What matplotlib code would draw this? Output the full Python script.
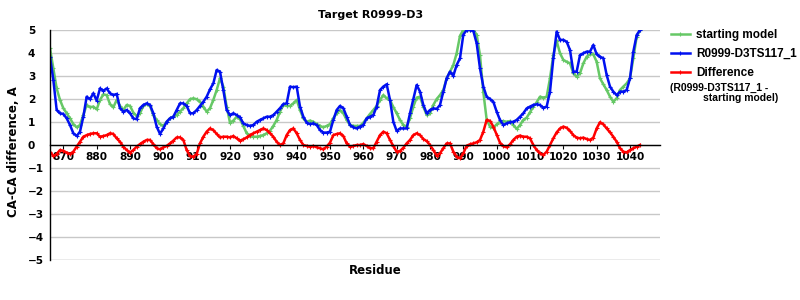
import numpy as np
import matplotlib
matplotlib.use("Agg")
import matplotlib.pyplot as plt

# residues 866..1043
residues = np.arange(866, 1044)

starting_model = [
    4.2, 3.33, 2.46, 1.96, 1.6, 1.38, 1.16, 0.91, 0.77, 0.87,
    1.3, 1.74, 1.64, 1.67, 1.55, 1.96, 2.2, 2.17, 1.78, 1.64,
    1.96, 1.7, 1.52, 1.74, 1.7, 1.41, 1.26, 1.38, 1.7, 1.78,
    1.7, 1.3, 1.09, 0.91, 0.83, 1.01, 1.16, 1.23, 1.3, 1.45,
    1.6, 1.81, 1.99, 2.03, 1.99, 1.88, 1.67, 1.45, 1.6, 1.96,
    2.39, 2.9, 2.54, 1.67, 0.97, 1.06, 1.23, 1.12, 0.83, 0.51,
    0.39, 0.36, 0.36, 0.39, 0.43, 0.51, 0.62, 0.83, 1.09, 1.45,
    1.74, 1.7, 1.7, 1.81, 1.96, 1.52, 1.16, 1.01, 1.06, 1.01,
    0.91, 0.83, 0.77, 0.83, 0.91, 1.16, 1.38, 1.52, 1.38, 1.09,
    0.87, 0.83, 0.83, 0.83, 0.97, 1.16, 1.35, 1.52, 1.7, 1.96,
    2.17, 2.03, 1.96, 1.65, 1.38, 1.09, 0.87, 0.8, 1.16, 1.67,
    2.06, 2.1, 1.67, 1.3, 1.38, 1.74, 2.0, 2.17, 2.39, 2.9,
    3.19, 3.48, 3.99, 4.75, 5.0, 5.0, 5.0, 5.0, 4.8, 3.9,
    2.3, 1.1, 0.8, 0.75, 0.9, 1.01, 1.04, 1.01, 1.04, 0.87,
    0.7, 0.87, 1.09, 1.19, 1.42, 1.67, 1.86, 2.1, 2.06, 2.1,
    2.9, 3.91, 4.52, 3.99, 3.7, 3.62, 3.55, 3.12, 2.97, 3.12,
    3.55, 3.84, 3.94, 3.94, 3.62, 2.9, 2.64, 2.39, 2.1, 1.88,
    2.03, 2.39, 2.54, 2.68, 2.9, 3.77, 4.71, 5.0,
]

model_ts117 = [
    3.84, 2.83, 1.52, 1.38, 1.35, 1.16, 0.87, 0.51, 0.39, 0.58,
    1.23, 2.1, 1.99, 2.25, 1.93, 2.46, 2.36, 2.46, 2.25, 2.17,
    2.22, 1.6, 1.45, 1.52, 1.38, 1.16, 1.12, 1.6, 1.74, 1.81,
    1.74, 1.38, 0.8, 0.48, 0.72, 1.01, 1.16, 1.23, 1.52, 1.81,
    1.81, 1.7, 1.38, 1.38, 1.52, 1.7, 1.88, 2.1, 2.42, 2.68,
    3.26, 3.19, 2.39, 1.52, 1.3, 1.38, 1.3, 1.2, 0.94, 0.87,
    0.83, 0.87, 1.01, 1.09, 1.16, 1.23, 1.23, 1.3, 1.45, 1.6,
    1.78, 1.81, 2.54, 2.51, 2.54, 1.67, 1.23, 0.97, 0.91, 0.94,
    0.87, 0.65, 0.54, 0.54, 0.58, 1.09, 1.52, 1.7, 1.6, 1.23,
    0.87, 0.77, 0.72, 0.8, 0.87, 1.16, 1.23, 1.3, 1.67, 2.39,
    2.54, 2.64, 1.96, 1.01, 0.61, 0.72, 0.72, 0.72, 1.38, 2.0,
    2.61, 2.32, 1.74, 1.38, 1.52, 1.59, 1.57, 1.74, 2.32, 2.9,
    3.19, 3.01, 3.48, 3.77, 4.8, 5.0, 5.0, 4.96, 4.42, 3.33,
    2.54, 2.1, 2.0, 1.88, 1.45, 1.09, 0.87, 0.94, 0.99, 1.01,
    1.09, 1.23, 1.38, 1.59, 1.67, 1.74, 1.77, 1.74, 1.62, 1.67,
    2.32, 3.77, 4.93, 4.57, 4.57, 4.49, 4.13, 3.19, 3.19, 3.91,
    3.99, 4.06, 4.06, 4.35, 3.94, 3.84, 3.77, 3.04, 2.54, 2.32,
    2.17, 2.32, 2.32, 2.39, 2.9, 4.06, 4.78, 5.0,
]

difference = [
    -0.29, -0.48, -0.39, -0.22, -0.25, -0.33, -0.39, -0.29, -0.07, 0.14,
    0.36, 0.43, 0.48, 0.51, 0.51, 0.36, 0.39, 0.43, 0.51, 0.48,
    0.29, 0.14, -0.07, -0.22, -0.33, -0.22, -0.07, 0.04, 0.14, 0.22,
    0.22, 0.04, -0.14, -0.19, -0.1, -0.04, 0.07, 0.19, 0.33, 0.33,
    0.22, -0.22, -0.48, -0.51, -0.39, 0.07, 0.36, 0.58, 0.72, 0.65,
    0.48, 0.33, 0.36, 0.36, 0.33, 0.39, 0.29, 0.19, 0.25, 0.33,
    0.43, 0.51, 0.58, 0.65, 0.72, 0.65, 0.51, 0.36, 0.14, 0.0,
    0.07, 0.43, 0.65, 0.72, 0.51, 0.22, 0.0, -0.04, -0.07, -0.04,
    -0.1, -0.14, -0.19, -0.07, 0.1, 0.43, 0.48, 0.51, 0.39, 0.07,
    -0.07, -0.04, 0.0, 0.0, 0.04, -0.04, -0.14, -0.14, 0.14, 0.43,
    0.58, 0.51, 0.22, -0.05, -0.29, -0.26, -0.12, 0.07, 0.22, 0.43,
    0.51, 0.43, 0.26, 0.17, 0.0, -0.22, -0.46, -0.36, -0.14, 0.07,
    0.07, -0.29, -0.51, -0.58, -0.36, -0.03, 0.03, 0.07, 0.12, 0.22,
    0.58, 1.09, 1.05, 0.8, 0.45, 0.1, -0.05, -0.1, 0.03, 0.22,
    0.36, 0.41, 0.36, 0.36, 0.29, 0.0, -0.22, -0.36, -0.43, -0.29,
    0.0, 0.29, 0.55, 0.72, 0.8, 0.75, 0.61, 0.43, 0.32, 0.29,
    0.32, 0.26, 0.22, 0.32, 0.72, 0.99, 0.9, 0.72, 0.55, 0.36,
    0.14, -0.14, -0.29, -0.32, -0.22, -0.14, -0.07, 0.0,
]

xticks = list(range(870, 1041, 10))
yticks = list(range(-5, 6))

green = "#66c866"
blue = "#0010f0"
red = "#ff0000"

fig = plt.figure(figsize=(8, 3), dpi=100)
ax = fig.add_axes([50 / 800, 40 / 300, 610 / 800, 230 / 300])

style = dict(lw=1.8, marker="+", ms=3, mew=0.8)
l1, = ax.plot(residues, starting_model, color=green, label="starting model", **style)
l2, = ax.plot(residues, model_ts117, color=blue, label="R0999-D3TS117_1", **style)
l3, = ax.plot(residues, difference, color=red, label="Difference", **style)

ax.set_xlim(866, 1049)
ax.set_ylim(-5, 5)
ax.set_yticks(yticks)
ax.set_xticks(xticks)
ax.grid(axis="y", color="#c8c8c8", lw=1)
ax.set_axisbelow(True)

for s in ["top", "right"]:
    ax.spines[s].set_visible(False)
ax.spines["bottom"].set_position(("data", 0))
ax.spines["bottom"].set_color("black")
ax.spines["bottom"].set_linewidth(1)
ax.spines["left"].set_linewidth(1)
ax.axhline(-5, color="#c8c8c8", lw=1, zorder=0)

# y labels are left-aligned in the original, starting ~22 px left of the axis
ax.tick_params(axis="y", length=0, pad=16)
ax.tick_params(axis="x", length=3, pad=2)
for lab in ax.get_xticklabels() + ax.get_yticklabels():
    lab.set_fontweight("bold")
    lab.set_fontsize(7.6)
    lab.set_family("DejaVu Sans")
for lab in ax.get_yticklabels():
    lab.set_horizontalalignment("left")

fig.text(371 / 800, 0.95, "Target R0999-D3", ha="center", va="center",
         fontsize=8, fontweight="bold", family="DejaVu Sans")
fig.text(375 / 800, 1 - 271 / 300, "Residue", ha="center", va="center",
         fontsize=8.5, fontweight="bold", family="DejaVu Sans")
fig.text(14 / 800, 1 - 152 / 300, "CA-CA difference, A", rotation=90,
         ha="center", va="center", fontsize=8.5, fontweight="bold",
         family="DejaVu Sans")

leg = fig.legend(handles=[l1, l2, l3], loc="upper left",
                 bbox_to_anchor=(671 / 800, 1 - 29 / 300), frameon=False,
                 prop={"family": "Liberation Sans", "weight": "bold", "size": 8.5},
                 handlelength=1.6, handletextpad=0.5, labelspacing=0.6,
                 borderaxespad=0, borderpad=0)
fig.text(670 / 800, 1 - 88 / 300, "(R0999-D3TS117_1 -", ha="left", va="center",
         fontsize=7.5, fontweight="bold", family="Liberation Sans")
fig.text(703 / 800, 1 - 98 / 300, "starting model)", ha="left", va="center",
         fontsize=7.5, fontweight="bold", family="Liberation Sans")

fig.savefig("out.png", dpi=100)
